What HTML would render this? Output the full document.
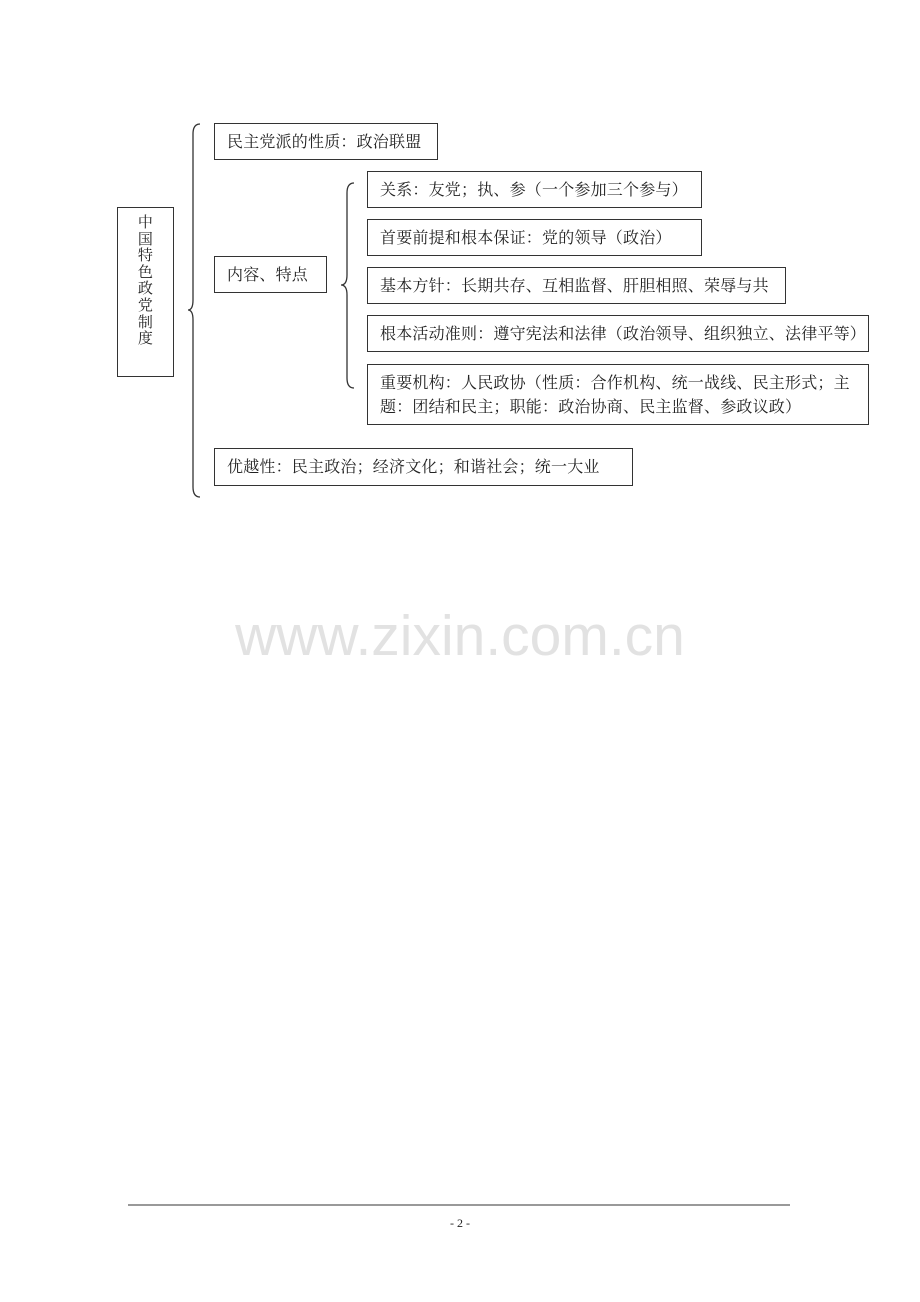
<!DOCTYPE html>
<html><head><meta charset="utf-8"><style>
body{margin:0;background:#fff;width:920px;height:1302px;position:relative;font-family:"Liberation Serif","Noto Serif CJK SC","Noto Sans CJK SC",serif;color:#222}
.b{position:absolute;border:1.3px solid #333;box-sizing:border-box;font-size:16px;letter-spacing:0.2px;line-height:20px;padding:9px 12px 0;white-space:nowrap}
</style></head><body>
<div class="b" style="left:117px;top:207px;width:57px;height:170px;padding:7px 0 0;text-align:center;font-size:15px;line-height:16.6px;white-space:normal">中<br>国<br>特<br>色<br>政<br>党<br>制<br>度</div>
<div class="b" style="left:214px;top:123px;width:224px;height:37px">民主党派的性质：政治联盟</div>
<div class="b" style="left:214px;top:256px;width:113px;height:37px">内容、特点</div>
<div class="b" style="left:367px;top:171px;width:335px;height:37px">关系：友党；执、参（一个参加三个参与）</div>
<div class="b" style="left:367px;top:219px;width:335px;height:37px">首要前提和根本保证：党的领导（政治）</div>
<div class="b" style="left:367px;top:267px;width:419px;height:37px">基本方针：长期共存、互相监督、肝胆相照、荣辱与共</div>
<div class="b" style="left:367px;top:315px;width:502px;height:37px">根本活动准则：遵守宪法和法律（政治领导、组织独立、法律平等）</div>
<div class="b" style="left:367px;top:364px;width:502px;height:61px;line-height:24px;padding-top:7px">重要机构：人民政协（性质：合作机构、统一战线、民主形式；主<br>题：团结和民主；职能：政治协商、民主监督、参政议政）</div>
<div class="b" style="left:214px;top:448px;width:419px;height:38px">优越性：民主政治；经济文化；和谐社会；统一大业</div>
<svg width="920" height="1302" style="position:absolute;left:0;top:0" fill="none" stroke="#333" stroke-width="1.3">
<path d="M200,124 Q193,124 193,134 L193,300 Q193,310 188,310 Q193,310 193,320 L193,487 Q193,497 200,497"/>
<path d="M354,183 Q347,183 347,193 L347,275 Q347,285 341,285 Q347,285 347,295 L347,378 Q347,388 354,388"/>
<line x1="128" y1="1205" x2="790" y2="1205" stroke-width="1"/>
</svg>
<div style="position:absolute;left:0;width:920px;top:603px;text-align:center;font-family:'Liberation Sans',sans-serif;font-size:57px;color:#e2e2e2">www.zixin.com.cn</div>
<div style="position:absolute;left:0;width:920px;top:1216px;text-align:center;font-size:12px">- 2 -</div>
</body></html>
